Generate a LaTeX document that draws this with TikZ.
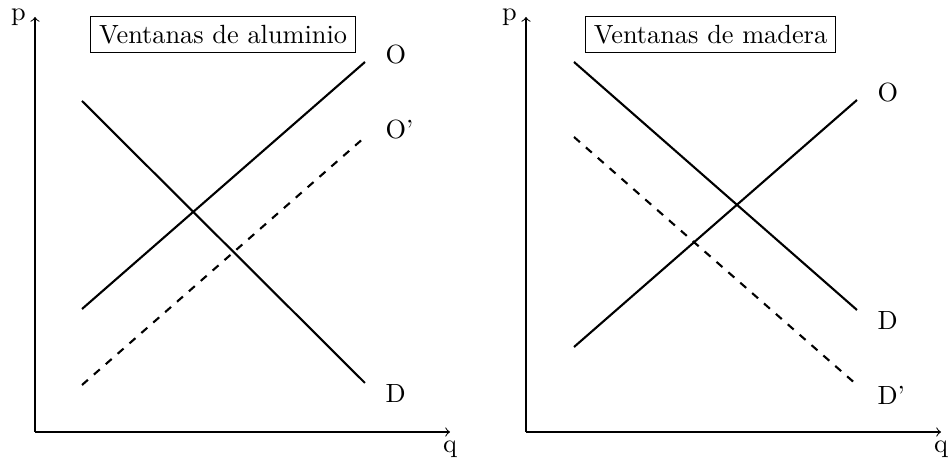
\documentclass[tikz,border=0pt]{standalone}
\usepackage{tikz}
\usetikzlibrary{calc}

\begin{document}
\begin{tikzpicture}[x=0.38pt,y=0.38pt,
  curve/.style={thick},
  lbl/.style={inner sep=0pt,anchor=base west},
  title/.style={draw,inner sep=3.33pt}]
  \useasboundingbox (0,0) rectangle (949,459);
  % Ventanas de aluminio: supply shifts down
  \begin{scope}[shift={(35,27)}]
    \coordinate (aO) at (0,0); \coordinate (aQ) at (415,0); \coordinate (aP) at (0,415);
    \draw[->] (aO)--(aQ) node[below] (aq) {q};
    \draw[->] (aO)--(aP) node[left] (ap) {p};
    \coordinate (aD0) at (47,331);  \coordinate (aD1) at (330,49);
    \coordinate (aS0) at (47,123);  \coordinate (aS1) at (330,370);
    \coordinate (aT0) at (47,47);   \coordinate (aT1) at (330,295);
    \draw[curve] (aD0)--(aD1); \draw[curve] (aS0)--(aS1);
    \draw[curve,dashed] (aT0)--(aT1);
    \node[lbl] (aSl) at ($(aS1)+(20,-2)$) {O};
    \node[lbl] (aTl) at ($(aT1)+(20,-2)$) {O'};
    \node[lbl] (aDl) at ($(aD1)+(20,-20)$) {D};
    \node[title] (atitle) at (188,397.5) {Ventanas de aluminio};
  \end{scope}
  % Ventanas de madera: demand shifts down
  \begin{scope}[shift={(526,27)}]
    \coordinate (mO) at (0,0); \coordinate (mQ) at (415,0); \coordinate (mP) at (0,415);
    \draw[->] (mO)--(mQ) node[below] (mq) {q};
    \draw[->] (mO)--(mP) node[left] (mp) {p};
    \coordinate (mD0) at (48,370);  \coordinate (mD1) at (331,122);
    \coordinate (mS0) at (48,85);   \coordinate (mS1) at (331,332);
    \coordinate (mT0) at (48,295);  \coordinate (mT1) at (331,47);
    \draw[curve] (mD0)--(mD1); \draw[curve] (mS0)--(mS1);
    \draw[curve,dashed] (mT0)--(mT1);
    \node[lbl] (mSl) at ($(mS1)+(20,-2)$) {O};
    \node[lbl] (mDl) at ($(mD1)+(20,-20)$) {D};
    \node[lbl] (mTl) at ($(mT1)+(20,-20)$) {D'};
    \node[title] (mtitle) at (184.5,397.5) {Ventanas de madera};
  \end{scope}
\end{tikzpicture}
\end{document}
